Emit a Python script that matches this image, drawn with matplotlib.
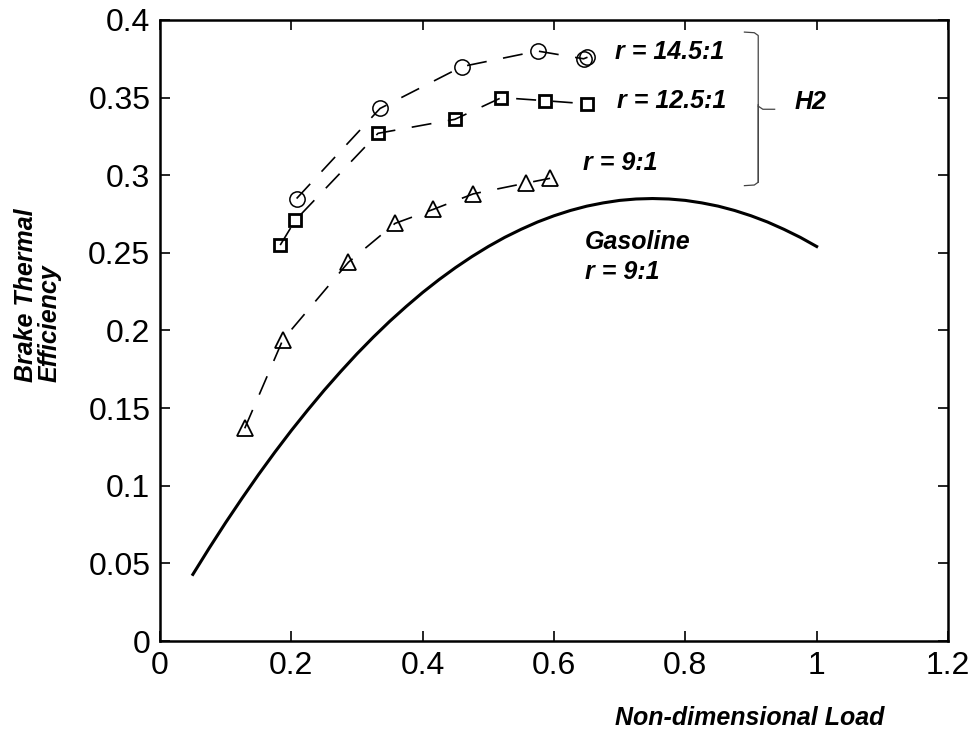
import matplotlib.pyplot as plt

plt.rcParams['font.family'] = ['Liberation Sans', 'DejaVu Sans']

# H2, r = 14.5:1 (circles)
x_145 = [0.208, 0.335, 0.460, 0.575, 0.645, 0.651]
y_145 = [0.285, 0.343, 0.370, 0.380, 0.375, 0.376]

# H2, r = 12.5:1 (squares)
x_125 = [0.183, 0.206, 0.332, 0.449, 0.520, 0.587, 0.650]
y_125 = [0.255, 0.271, 0.327, 0.336, 0.350, 0.348, 0.346]

# H2, r = 9:1 (triangles)
x_9 = [0.129, 0.187, 0.287, 0.358, 0.416, 0.477, 0.558, 0.594]
y_9 = [0.137, 0.194, 0.244, 0.269, 0.278, 0.288, 0.295, 0.298]

# Gasoline, r = 9:1
x_gas = [0.05, 0.075, 0.10, 0.125, 0.15, 0.175, 0.20, 0.225, 0.25, 0.275,
         0.30, 0.325, 0.35, 0.375, 0.40, 0.425, 0.45, 0.475, 0.50, 0.525,
         0.55, 0.575, 0.60, 0.625, 0.65, 0.675, 0.70, 0.725, 0.75, 0.775,
         0.80, 0.825, 0.85, 0.875, 0.90, 0.925, 0.95, 0.975, 1.00]
y_gas = [0.0429, 0.0599, 0.0763, 0.0920, 0.1072, 0.1217, 0.1356, 0.1488,
         0.1615, 0.1735, 0.1850, 0.1958, 0.2060, 0.2155, 0.2245, 0.2328,
         0.2405, 0.2476, 0.2541, 0.2600, 0.2652, 0.2699, 0.2739, 0.2773,
         0.2801, 0.2822, 0.2838, 0.2847, 0.2850, 0.2847, 0.2838, 0.2822,
         0.2801, 0.2773, 0.2739, 0.2699, 0.2652, 0.2600, 0.2541]

xticks = [0, 0.2, 0.4, 0.6, 0.8, 1, 1.2]
xticklabels = ['0', '0.2', '0.4', '0.6', '0.8', '1', '1.2']
yticks = [0, 0.05, 0.1, 0.15, 0.2, 0.25, 0.3, 0.35, 0.4]
yticklabels = ['0', '0.05', '0.1', '0.15', '0.2', '0.25', '0.3', '0.35', '0.4']

fig = plt.figure(figsize=(9.74, 7.32), dpi=100)
ax = fig.add_axes([0.1643, 0.1243, 0.809, 0.8484])

dash = (0, (12, 10))
ax.plot(x_145, y_145, color='black', lw=1.2, ls=dash, marker='o', ms=11,
        mfc='none', mec='black', mew=1.1)
ax.plot(x_125, y_125, color='black', lw=1.2, ls=dash, marker='s', ms=8.5,
        mfc='none', mec='black', mew=2.0)
ax.plot(x_9, y_9, color='black', lw=1.2, ls=dash, marker='^', ms=12,
        mfc='none', mec='black', mew=1.3)
ax.plot(x_gas, y_gas, color='black', lw=2.2)

ax.set_xlim(0, 1.2)
ax.set_ylim(0, 0.4)
ax.set_xticks(xticks)
ax.set_xticklabels(xticklabels)
ax.set_yticks(yticks)
ax.set_yticklabels(yticklabels)
ax.tick_params(direction='in', length=7, width=1.2, labelsize=23,
               top=True, right=True, pad=7)
for s in ax.spines.values():
    s.set_linewidth(1.8)

txt = dict(fontsize=18, fontweight='bold', fontstyle='italic', va='center')
ax.text(0.693, 0.3794, 'r = 14.5:1', **txt)
ax.text(0.696, 0.3478, 'r = 12.5:1', **txt)
ax.text(0.644, 0.3079, 'r = 9:1', **txt)
ax.text(0.647, 0.257, 'Gasoline', **txt)
ax.text(0.647, 0.2377, 'r = 9:1', **txt)
ax.text(0.967, 0.347, 'H2', **txt)

# brace grouping the H2 series
bc = '#444444'
ax.plot([0.890, 0.905, 0.911, 0.911], [0.3922, 0.3918, 0.390, 0.2955],
        color=bc, lw=0.9, clip_on=False)
ax.plot([0.911, 0.911, 0.905, 0.890], [0.3455, 0.2955, 0.2937, 0.2933],
        color=bc, lw=0.9, clip_on=False)
ax.plot([0.911, 0.918, 0.936], [0.3445, 0.3425, 0.3425], color=bc, lw=0.9,
        clip_on=False)

fig.text(0.77, 0.019, 'Non-dimensional Load', fontsize=18, fontweight='bold',
         fontstyle='italic', ha='center', va='center')
fig.text(0.039, 0.478, 'Brake Thermal\nEfficiency', fontsize=18,
         fontweight='bold', fontstyle='italic', rotation=90, ha='center',
         va='bottom', multialignment='left', linespacing=1.0)

fig.savefig('out.png', dpi=100)
